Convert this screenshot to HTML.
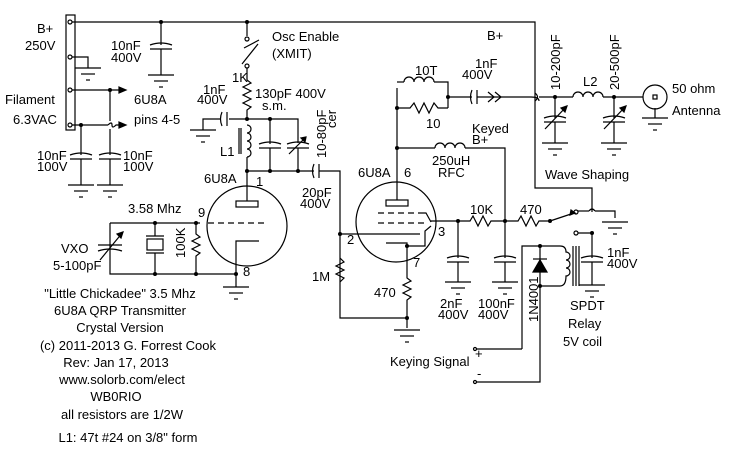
<!DOCTYPE html>
<html><head><meta charset="utf-8"><style>
html,body{margin:0;padding:0;background:#fff}
svg{display:block}
text{font-family:"Liberation Sans",sans-serif;font-size:13px;fill:#000}
</style></head><body>
<svg width="736" height="452" viewBox="0 0 736 452" xmlns="http://www.w3.org/2000/svg">
<defs>
<g id="gnd"><line x1="-13" y1="0" x2="13" y2="0"/><line x1="-7" y1="6" x2="7" y2="6"/><line x1="-2" y1="12" x2="2" y2="12"/></g>
<g id="capv"><path d="M-11,0 Q0,-4 11,0"/><line x1="-11" y1="4" x2="11" y2="4"/></g>
</defs>
<g stroke="#000" stroke-width="1.2" fill="none">
<rect x="66" y="15" width="9" height="115"/>
<circle cx="70" cy="22" r="2"/><circle cx="70" cy="57" r="2"/><circle cx="70" cy="90" r="2"/><circle cx="70" cy="125" r="2"/>
<polyline points="72,22 535,22 535,188 592,188 592,212"/>
<line x1="161" y1="22" x2="161" y2="45"/><use href="#capv" x="161" y="45"/><line x1="161" y1="49" x2="161" y2="75"/><use href="#gnd" x="161" y="75"/>
<polyline points="72,57 88,57 88,68"/><use href="#gnd" x="88" y="68"/>
<line x1="72" y1="90" x2="125" y2="90"/><path d="M119,87 L126,90 L119,93Z" fill="#000"/>
<polyline points="72,125 108,125"/><path d="M108,125 Q112,121 112,125 Q112,129 116,125 L125,125"/><path d="M119,122 L126,125 L119,128Z" fill="#000"/>
<line x1="110" y1="90" x2="110" y2="121"/><line x1="110" y1="129" x2="110" y2="155"/>
<line x1="81" y1="125" x2="81" y2="155"/>
<use href="#capv" x="81" y="155"/><use href="#capv" x="110" y="155"/>
<line x1="81" y1="159" x2="81" y2="185"/><line x1="110" y1="159" x2="110" y2="185"/>
<use href="#gnd" x="81" y="185"/><use href="#gnd" x="110" y="185"/>
<line x1="247" y1="22" x2="247" y2="36"/><circle cx="247" cy="39" r="2"/>
<line x1="244" y1="48" x2="259" y2="40"/><line x1="242" y1="64" x2="258" y2="44"/><circle cx="247" cy="66" r="2"/>
<polyline points="247,68 247,80 251,83 243,87 251,91 243,95 251,99 243,103 251,107 247,110 247,119"/>
<polyline points="247,119 229,119"/><line x1="227" y1="112" x2="227" y2="126"/><path d="M222,112 Q219,119 222,126"/><polyline points="221,119 203,119 203,130"/><use href="#gnd" x="203" y="130"/>
<polyline points="247,119 298,119 298,143"/><line x1="270" y1="119" x2="270" y2="144"/>
<path d="M247,125 a4,4 0 1 1 0,8 a4,4 0 1 1 0,8 a4,4 0 1 1 0,8 a4,4 0 1 1 0,8"/>
<line x1="247" y1="157" x2="247" y2="171"/>
<line x1="239" y1="128" x2="239" y2="154"/><line x1="241" y1="128" x2="241" y2="154"/>
<use href="#capv" x="270" y="144"/><use href="#capv" x="298" y="144"/>
<line x1="289" y1="154" x2="306" y2="137"/><path d="M306,137 l-5,1 l4,4z" fill="#000"/>
<line x1="270" y1="148" x2="270" y2="171"/><line x1="298" y1="148" x2="298" y2="171"/>
<polyline points="247,171 314,171"/><path d="M314,164 Q311,171 314,178"/><line x1="319" y1="164" x2="319" y2="178"/><polyline points="319,171 340,171 340,318 407,318"/>
<circle cx="247" cy="226" r="40"/>
<line x1="247" y1="171" x2="247" y2="201"/><rect x="236" y="201" width="22" height="6"/>
<line x1="208" y1="223" x2="266" y2="223" stroke-dasharray="6,4"/>
<polyline points="259,241 236,241 236,274"/>
<polyline points="110,223 200,223"/><polyline points="110,223 110,274 236,274"/>
<line x1="98" y1="245" x2="122" y2="245"/><path d="M98,251 Q110,247 122,251"/><line x1="100" y1="260" x2="123" y2="232"/><path d="M123,232 l-6,2 l4,4z" fill="#000"/>
<line x1="155" y1="223" x2="155" y2="236"/><line x1="146" y1="236" x2="164" y2="236"/><rect x="147" y="239" width="16" height="11"/><line x1="146" y1="253" x2="164" y2="253"/><line x1="155" y1="253" x2="155" y2="274"/>
<polyline points="196,223 196,234 200,237 192,241 200,245 192,249 200,253 196,256 196,274"/>
<line x1="236" y1="274" x2="236" y2="287"/><use href="#gnd" x="236" y="287"/>
<circle cx="396" cy="222" r="40"/>
<rect x="386" y="200" width="22" height="6"/><line x1="397" y1="200" x2="397" y2="88"/>
<line x1="378" y1="213" x2="420" y2="213" stroke-dasharray="6,4"/>
<polyline points="420,213 426,213 431,222"/>
<line x1="378" y1="223" x2="428" y2="223" stroke-dasharray="6,4"/>
<polyline points="340,234 420,234"/>
<polyline points="386,243 407,243 407,246"/><polyline points="407,246 425,246 425,231 431,226"/>
<polyline points="407,246 407,278 411,281 403,285 411,289 403,293 411,297 407,300 407,328"/><use href="#gnd" x="407" y="330"/>
<polyline points="340,258 344,262 336,266 344,270 336,274 344,278 340,282"/>
<polyline points="397,82 404,82"/><path d="M404,82 a5,5 0 0 1 10,0 a5,5 0 0 1 10,0 a5,5 0 0 1 10,0"/><polyline points="434,82 448,82 448,108"/>
<polyline points="397,108 410,108 414,103 419,113 424,103 429,113 434,103 438,108 448,108"/>
<line x1="448" y1="97" x2="472" y2="97"/><path d="M472,90 Q469,97 472,104"/><line x1="477" y1="90" x2="477" y2="104"/><line x1="477" y1="97" x2="531" y2="97"/>
<polyline points="488,92 494,97 488,102"/><polyline points="495,92 501,97 495,102"/>
<path d="M531,97 Q539,97 539,101"/>
<path d="M535,93 Q540,97 535,101"/>
<line x1="539" y1="97" x2="573" y2="97"/>
<path d="M573,97 a5,5 0 0 1 10,0 a5,5 0 0 1 10,0 a5,5 0 0 1 10,0"/><line x1="603" y1="97" x2="643" y2="97"/>
<line x1="555" y1="97" x2="555" y2="118"/><use href="#capv" x="555" y="118"/><line x1="555" y1="122" x2="555" y2="143"/><use href="#gnd" x="555" y="143"/>
<line x1="545" y1="129" x2="567" y2="106"/><path d="M567,106 l-6,2 l4,4z" fill="#000"/>
<line x1="614" y1="97" x2="614" y2="118"/><use href="#capv" x="614" y="118"/><line x1="614" y1="122" x2="614" y2="143"/><use href="#gnd" x="614" y="143"/>
<line x1="604" y1="129" x2="626" y2="106"/><path d="M626,106 l-6,2 l4,4z" fill="#000"/>
<circle cx="655" cy="97" r="12"/><rect x="653" y="95" width="4" height="4"/><line x1="655" y1="108" x2="655" y2="118"/><use href="#gnd" x="655" y="118"/>
<polyline points="397,148 435,148"/><path d="M435,148 a5,5 0 0 1 10,0 a5,5 0 0 1 10,0 a5,5 0 0 1 10,0"/><polyline points="465,148 505,148 505,221"/>
<polyline points="431,221 458,221 470,221 473,216 478,226 483,216 488,226 491,221 505,221 518,221 521,216 526,226 531,216 536,226 539,221 550,221"/>
<line x1="458" y1="221" x2="458" y2="258"/><use href="#capv" x="458" y="258"/><line x1="458" y1="262" x2="458" y2="282"/><use href="#gnd" x="458" y="282"/>
<line x1="505" y1="221" x2="505" y2="258"/><use href="#capv" x="505" y="258"/><line x1="505" y1="262" x2="505" y2="282"/><use href="#gnd" x="505" y="282"/>
<line x1="550" y1="221" x2="574" y2="213"/><circle cx="576" cy="212" r="2"/><path d="M571,210 l4,3 l-5,2z" fill="#000"/>
<polyline points="578,211 589,211"/><path d="M589,211 Q592,207 595,211"/><polyline points="595,211 615,211 615,218"/><use href="#gnd" x="615" y="222"/>
<circle cx="576" cy="233" r="2"/><polyline points="578,233 592,233 592,258"/><use href="#capv" x="592" y="258"/><line x1="592" y1="262" x2="592" y2="285"/><use href="#gnd" x="592" y="285"/>
<polyline points="522,349 522,246 560,246"/><line x1="540" y1="246" x2="540" y2="286"/>
<path d="M533,272 L547,272 L540,260Z" fill="#000"/><line x1="533" y1="259" x2="547" y2="259"/>
<polyline points="540,286 560,286"/>
<path d="M560,246 Q566,246 566,252 a4,4 0 0 1 0,8 a4,4 0 0 1 0,8 a4,4 0 0 1 0,8 Q566,286 560,286"/>
<line x1="573" y1="246" x2="573" y2="286"/><line x1="576" y1="246" x2="576" y2="286"/><line x1="579" y1="246" x2="579" y2="286"/>
<polyline points="476,349 522,349"/><circle cx="475" cy="349" r="1.5"/>
<polyline points="476,382 540,382 540,286"/><circle cx="475" cy="382" r="1.5"/>
</g>
<g fill="#000">
<circle cx="161" cy="22" r="2"/><circle cx="247" cy="22" r="2"/><circle cx="110" cy="90" r="2"/><circle cx="81" cy="125" r="2"/>
<circle cx="247" cy="119" r="2"/><circle cx="270" cy="119" r="2"/><circle cx="247" cy="171" r="2"/><circle cx="270" cy="171" r="2"/><circle cx="298" cy="171" r="2"/>
<circle cx="155" cy="223" r="2"/><circle cx="196" cy="223" r="2"/><circle cx="155" cy="274" r="2"/><circle cx="196" cy="274" r="2"/><circle cx="236" cy="274" r="2"/>
<circle cx="340" cy="234" r="2"/><circle cx="407" cy="246" r="2"/><circle cx="407" cy="318" r="2"/>
<circle cx="397" cy="108" r="2"/><circle cx="397" cy="148" r="2"/><circle cx="448" cy="97" r="2"/><circle cx="555" cy="97" r="2"/><circle cx="614" cy="97" r="2"/>
<circle cx="458" cy="221" r="2"/><circle cx="505" cy="221" r="2"/><circle cx="550" cy="221" r="2"/><circle cx="592" cy="233" r="2"/><circle cx="540" cy="246" r="2"/><circle cx="540" cy="286" r="2"/>
</g>
<text x="37" y="33">B+</text><text x="25" y="50">250V</text>
<text x="111" y="50">10nF</text><text x="111" y="62">400V</text>
<text x="5" y="104">Filament</text><text x="13" y="124">6.3VAC</text>
<text x="134" y="104">6U8A</text><text x="134" y="124">pins 4-5</text>
<text x="37" y="160">10nF</text><text x="37" y="171">100V</text>
<text x="123" y="160">10nF</text><text x="123" y="171">100V</text>
<text x="272" y="41">Osc Enable</text><text x="272" y="58">(XMIT)</text>
<text x="232" y="82">1K</text>
<text x="203" y="94">1nF</text><text x="197" y="104">400V</text>
<text x="255" y="98">130pF 400V</text><text x="262" y="110">s.m.</text>
<text x="220" y="156">L1</text>
<text transform="translate(326,158) rotate(-90)">10-80pF</text><text transform="translate(336,128) rotate(-90)">cer</text>
<text x="204" y="183">6U8A</text><text x="256" y="186">1</text>
<text x="302" y="197">20pF</text><text x="300" y="208">400V</text>
<text x="128" y="213">3.58 Mhz</text><text x="198" y="217">9</text>
<text x="61" y="253">VXO</text><text x="53" y="270">5-100pF</text>
<text transform="translate(185,258) rotate(-90)">100K</text>
<text x="243" y="276">8</text>
<text x="347" y="244">2</text><text x="438" y="236">3</text><text x="413" y="267">7</text>
<text x="312" y="281">1M</text><text x="374" y="297">470</text>
<text x="358" y="177">6U8A</text><text x="404" y="177">6</text>
<text x="415" y="75">10T</text><text x="475" y="68">1nF</text><text x="462" y="79">400V</text>
<text x="426" y="128">10</text>
<text x="472" y="133">Keyed</text><text x="472" y="144">B+</text>
<text x="432" y="165">250uH</text><text x="438" y="177">RFC</text>
<text x="487" y="40">B+</text>
<text x="545" y="179">Wave Shaping</text>
<text transform="translate(560,90) rotate(-90)">10-200pF</text>
<text transform="translate(619,90) rotate(-90)">20-500pF</text>
<text x="583" y="86">L2</text>
<text x="672" y="93">50 ohm</text><text x="672" y="115">Antenna</text>
<text x="470" y="214">10K</text><text x="520" y="214">470</text>
<text x="440" y="308">2nF</text><text x="438" y="319">400V</text>
<text x="478" y="308">100nF</text><text x="478" y="319">400V</text>
<text transform="translate(538,322) rotate(-90)">1N4001</text>
<text x="607" y="257">1nF</text><text x="607" y="268">400V</text>
<text x="570" y="310">SPDT</text><text x="568" y="328">Relay</text><text x="563" y="346">5V coil</text>
<text x="390" y="366">Keying Signal</text><text x="475" y="358" font-size="11">+</text><text x="477" y="378" font-size="11">-</text>
<g text-anchor="middle">
<text x="120" y="298">"Little Chickadee"   3.5 Mhz</text>
<text x="120" y="315">6U8A QRP Transmitter</text>
<text x="120" y="332">Crystal Version</text>
<text x="128" y="350">(c) 2011-2013  G. Forrest Cook</text>
<text x="116" y="367">Rev: Jan 17, 2013</text>
<text x="122" y="384">www.solorb.com/elect</text>
<text x="116" y="401">WB0RIO</text>
<text x="122" y="419">all resistors are 1/2W</text>
<text x="128" y="442">L1: 47t #24 on 3/8" form</text>
</g>
</svg>
</body></html>
